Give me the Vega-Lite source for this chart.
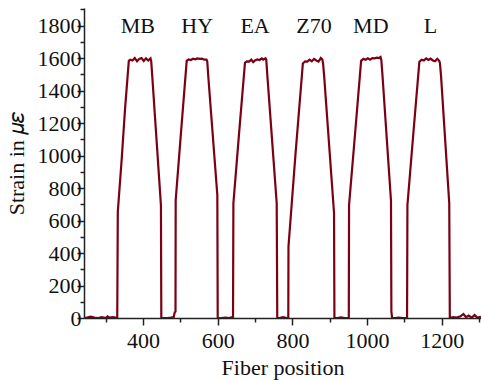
{
  "$schema": "https://vega.github.io/schema/vega-lite/v6.json",
  "width": 397,
  "height": 310,
  "autosize": "none",
  "padding": {"left": 84, "top": 8, "right": 0, "bottom": 62},
  "background": "white",
  "config": {
    "view": {"stroke": null},
    "font": "Liberation Serif"
  },
  "encoding": {
    "x": {
      "field": "pos", "type": "quantitative",
      "scale": {"domain": [242, 1305], "nice": false, "zero": false},
      "axis": {
        "title": "Fiber position",
        "values": [300, 400, 500, 600, 700, 800, 900, 1000, 1100, 1200, 1300],
        "labelExpr": "datum.value % 200 === 0 ? datum.value : ''",
        "tickSize": {"condition": {"test": "datum.value % 200 !== 0", "value": 4}, "value": 7},
        "labelOverlap": false,
        "labelFont": "Liberation Serif",
        "labelFontSize": 22,
        "labelColor": "#111111",
        "labelPadding": 5,
        "titleFont": "Liberation Serif",
        "titleFontSize": 22,
        "titleFontWeight": "normal",
        "titleColor": "#111111",
        "titlePadding": 6,
        "labelFlush": false,
        "format": "d",
        "domainColor": "#222222",
        "domainWidth": 1.5,
        "tickColor": "#222222",
        "tickWidth": 1.5,
        "grid": false
      }
    },
    "y": {
      "field": "strain", "type": "quantitative",
      "scale": {"domain": [0, 1908], "nice": false},
      "axis": {
        "title": "Strain in 𝜇𝜀",
        "values": [0, 100, 200, 300, 400, 500, 600, 700, 800, 900, 1000, 1100, 1200, 1300, 1400, 1500, 1600, 1700, 1800, 1900],
        "labelExpr": "datum.value % 200 === 0 ? datum.value : ''",
        "tickSize": {"condition": {"test": "datum.value % 200 !== 0", "value": 4}, "value": 7},
        "labelOverlap": false,
        "labelFont": "Liberation Serif",
        "labelFontSize": 22,
        "labelColor": "#111111",
        "labelPadding": -4,
        "titleFont": "Liberation Serif",
        "titleFontSize": 22,
        "titleFontWeight": "normal",
        "titleColor": "#111111",
        "titlePadding": 9,
        "labelFlush": false,
        "format": "d",
        "domainColor": "#222222",
        "domainWidth": 1.5,
        "tickColor": "#222222",
        "tickWidth": 1.5,
        "grid": false
      }
    }
  },
  "layer": [
    {
      "data": {
        "values": [
          {"pos": 242, "strain": 0}, {"pos": 250, "strain": 3}, {"pos": 260, "strain": 8}, {"pos": 270, "strain": 2},
          {"pos": 280, "strain": 0}, {"pos": 290, "strain": 6}, {"pos": 300, "strain": 0}, {"pos": 305, "strain": 10},
          {"pos": 310, "strain": 2}, {"pos": 320, "strain": 5}, {"pos": 331, "strain": 0},
          {"pos": 332.5, "strain": 654}, {"pos": 343, "strain": 980}, {"pos": 352, "strain": 1290}, {"pos": 362, "strain": 1583},
          {"pos": 366, "strain": 1590}, {"pos": 372, "strain": 1585}, {"pos": 378, "strain": 1600}, {"pos": 384, "strain": 1580},
          {"pos": 390, "strain": 1595}, {"pos": 396, "strain": 1600}, {"pos": 402, "strain": 1582}, {"pos": 408, "strain": 1598},
          {"pos": 414, "strain": 1585}, {"pos": 420, "strain": 1598}, {"pos": 422, "strain": 1580},
          {"pos": 425, "strain": 1480}, {"pos": 448, "strain": 695}, {"pos": 449, "strain": 0},
          {"pos": 455, "strain": 0}, {"pos": 465, "strain": 0}, {"pos": 475, "strain": 2}, {"pos": 482, "strain": 5},
          {"pos": 485, "strain": 35}, {"pos": 487, "strain": 40},
          {"pos": 487.5, "strain": 726}, {"pos": 502, "strain": 1150}, {"pos": 517, "strain": 1583},
          {"pos": 522, "strain": 1592}, {"pos": 528, "strain": 1588}, {"pos": 534, "strain": 1596}, {"pos": 540, "strain": 1592},
          {"pos": 546, "strain": 1598}, {"pos": 552, "strain": 1595}, {"pos": 558, "strain": 1596}, {"pos": 564, "strain": 1590},
          {"pos": 570, "strain": 1590}, {"pos": 572, "strain": 1580},
          {"pos": 575, "strain": 1480}, {"pos": 599, "strain": 757}, {"pos": 600, "strain": 0},
          {"pos": 610, "strain": 0}, {"pos": 620, "strain": 3}, {"pos": 630, "strain": 0}, {"pos": 638, "strain": 5}, {"pos": 641, "strain": 0},
          {"pos": 642, "strain": 706}, {"pos": 657, "strain": 1130}, {"pos": 673, "strain": 1571},
          {"pos": 678, "strain": 1580}, {"pos": 684, "strain": 1578}, {"pos": 690, "strain": 1590}, {"pos": 695, "strain": 1575},
          {"pos": 700, "strain": 1585}, {"pos": 706, "strain": 1592}, {"pos": 712, "strain": 1588}, {"pos": 718, "strain": 1598},
          {"pos": 722, "strain": 1590}, {"pos": 728, "strain": 1598}, {"pos": 730, "strain": 1590},
          {"pos": 733, "strain": 1490}, {"pos": 758, "strain": 706}, {"pos": 759.5, "strain": 0},
          {"pos": 765, "strain": 0}, {"pos": 775, "strain": 5}, {"pos": 785, "strain": 0}, {"pos": 789, "strain": 0},
          {"pos": 789.5, "strain": 439}, {"pos": 808, "strain": 1000}, {"pos": 828, "strain": 1567},
          {"pos": 834, "strain": 1580}, {"pos": 840, "strain": 1578}, {"pos": 846, "strain": 1590}, {"pos": 852, "strain": 1580},
          {"pos": 858, "strain": 1595}, {"pos": 864, "strain": 1585}, {"pos": 870, "strain": 1578}, {"pos": 876, "strain": 1600},
          {"pos": 880, "strain": 1592}, {"pos": 882, "strain": 1570},
          {"pos": 885, "strain": 1490}, {"pos": 911.5, "strain": 646}, {"pos": 912.5, "strain": 0},
          {"pos": 920, "strain": 0}, {"pos": 930, "strain": 4}, {"pos": 940, "strain": 0}, {"pos": 951, "strain": 0},
          {"pos": 951.7, "strain": 695}, {"pos": 968, "strain": 1140}, {"pos": 984, "strain": 1583},
          {"pos": 990, "strain": 1595}, {"pos": 996, "strain": 1590}, {"pos": 1002, "strain": 1598}, {"pos": 1008, "strain": 1590},
          {"pos": 1014, "strain": 1600}, {"pos": 1020, "strain": 1598}, {"pos": 1026, "strain": 1602}, {"pos": 1032, "strain": 1600},
          {"pos": 1036, "strain": 1606}, {"pos": 1038, "strain": 1590},
          {"pos": 1041, "strain": 1500}, {"pos": 1064, "strain": 722}, {"pos": 1065, "strain": 40}, {"pos": 1067, "strain": 0},
          {"pos": 1075, "strain": 0}, {"pos": 1085, "strain": 3}, {"pos": 1095, "strain": 0}, {"pos": 1107, "strain": 0},
          {"pos": 1108, "strain": 695}, {"pos": 1124, "strain": 1140}, {"pos": 1140, "strain": 1577},
          {"pos": 1146, "strain": 1590}, {"pos": 1152, "strain": 1585}, {"pos": 1158, "strain": 1598}, {"pos": 1164, "strain": 1588},
          {"pos": 1170, "strain": 1596}, {"pos": 1176, "strain": 1585}, {"pos": 1182, "strain": 1580}, {"pos": 1188, "strain": 1595},
          {"pos": 1193, "strain": 1583}, {"pos": 1195, "strain": 1570},
          {"pos": 1198, "strain": 1490}, {"pos": 1220, "strain": 706}, {"pos": 1221.5, "strain": 0},
          {"pos": 1230, "strain": 5}, {"pos": 1240, "strain": 3}, {"pos": 1250, "strain": 10}, {"pos": 1258, "strain": 25},
          {"pos": 1265, "strain": 5}, {"pos": 1272, "strain": 15}, {"pos": 1280, "strain": 2}, {"pos": 1288, "strain": 18},
          {"pos": 1295, "strain": 3}, {"pos": 1305, "strain": 8}
        ]
      },
      "mark": {"type": "line", "color": "#7b0014", "strokeWidth": 2.2, "clip": true}
    },
    {
      "data": {
        "values": [
          {"pos": 386, "strain": 1800, "name": "MB"},
          {"pos": 545, "strain": 1800, "name": "HY"},
          {"pos": 700, "strain": 1800, "name": "EA"},
          {"pos": 858, "strain": 1800, "name": "Z70"},
          {"pos": 1010, "strain": 1800, "name": "MD"},
          {"pos": 1170, "strain": 1800, "name": "L"}
        ]
      },
      "mark": {"type": "text", "font": "Liberation Serif", "fontSize": 22, "color": "#111111", "baseline": "middle", "align": "center"},
      "encoding": {
        "text": {"field": "name"}
      }
    }
  ]
}
